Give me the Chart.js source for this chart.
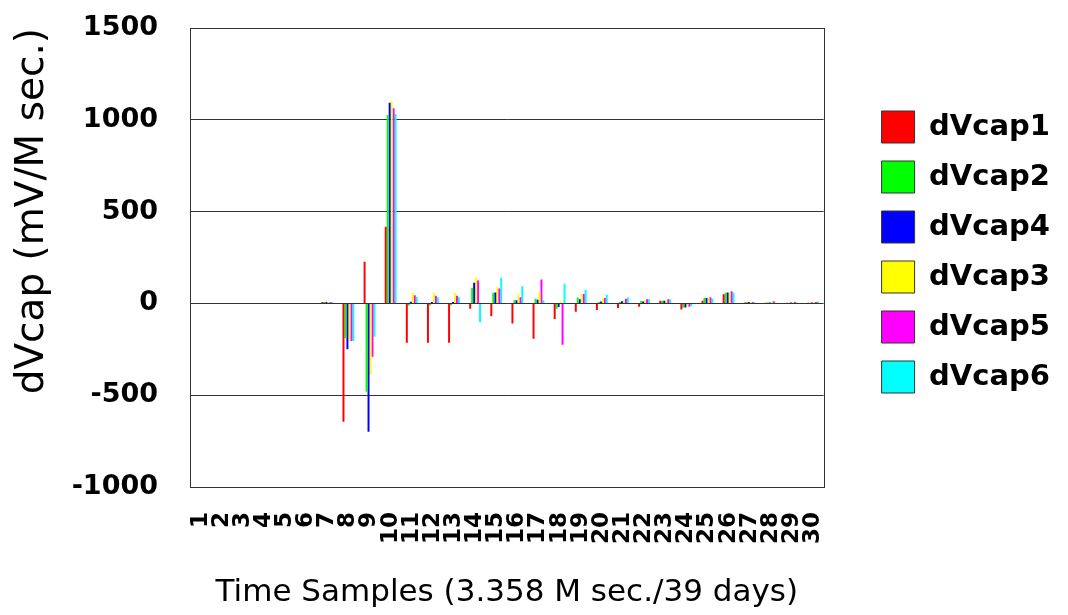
<!DOCTYPE html>
<html>
<head>
<meta charset="utf-8">
<script src="https://cdn.jsdelivr.net/npm/chart.js@4/dist/chart.umd.min.js"></script>
<style>
  html, body { margin: 0; padding: 0; background: #ffffff; }
  #wrap { width: 1068px; height: 615px; }
</style>
</head>
<body>
<div id="wrap"><canvas id="c" width="1068" height="615"></canvas></div>
<script>
const categories = ['1','2','3','4','5','6','7','8','9','10','11','12','13','14','15','16','17','18','19','20','21','22','23','24','25','26','27','28','29','30'];

const dVcap1 = [0,0,0,0,0,0,8,-644,227,418,-215,-214,-214,-29,-70,-110,-192,-85,-45,-36,-25,-18,15,-33,15,50,5,3,3,3];
const dVcap2 = [0,0,0,0,0,0,8,-190,-481,1026,-12,-12,-10,85,58,17,25,-29,32,8,8,13,15,-22,30,58,8,5,3,3];
const dVcap4 = [0,0,0,0,0,0,8,-250,-699,1093,9,8,8,112,60,17,20,-20,22,10,12,10,15,-22,30,60,8,5,5,5];
const dVcap3 = [0,0,0,0,0,0,8,-205,-390,1099,60,58,58,140,90,52,62,12,50,30,17,18,18,-18,30,62,8,8,8,8];
const dVcap5 = [0,0,0,0,0,0,8,-205,-290,1063,44,42,42,125,81,34,130,-225,51,30,25,23,22,-18,33,66,8,12,8,8];
const dVcap6 = [0,0,0,0,0,0,8,-205,-181,1031,35,34,34,-102,140,93,17,107,75,47,32,23,22,-15,25,60,5,5,5,10];

const seriesNames = ['dVcap1','dVcap2','dVcap4','dVcap3','dVcap5','dVcap6'];
const seriesValues = [dVcap1, dVcap2, dVcap4, dVcap3, dVcap5, dVcap6];
const seriesColors = ['#ff0000','#00ff00','#0000ff','#ffff00','#ff00ff','#00ffff'];

const yTickValues = [-1000, -500, 0, 500, 1000, 1500];

const FONT = 'DejaVu Sans';
const AXIS_COLOR = '#333333';

const plotBorder = {
  id: 'plotBorder',
  afterDatasetsDraw(chart) {
    const a = chart.chartArea, ctx = chart.ctx;
    ctx.save();
    ctx.strokeStyle = AXIS_COLOR;
    ctx.lineWidth = 1;
    ctx.strokeRect(Math.round(a.left) + 0.5, Math.round(a.top) + 0.5, Math.round(a.right - a.left), Math.round(a.bottom - a.top));
    ctx.restore();
  }
};

new Chart(document.getElementById('c'), {
  type: 'bar',
  data: {
    labels: categories,
    datasets: seriesNames.map((n, i) => ({
      label: n,
      data: seriesValues[i],
      backgroundColor: seriesColors[i],
      borderWidth: 0,
      categoryPercentage: 0.56,
      barPercentage: 1.0,
      yAxisID: 'y'
    }))
  },
  options: {
    responsive: false,
    animation: false,
    devicePixelRatio: 1,
    layout: { padding: { top: 28, right: 8, bottom: 0, left: 0 } },
    plugins: {
      tooltip: { enabled: false },
      legend: {
        position: 'right',
        align: 'start',
        maxWidth: 400,
        title: { display: true, text: '', font: { family: FONT, size: 10, lineHeight: 1 }, padding: { top: 55, bottom: 0 } },
        labels: {
          font: { family: FONT, size: 29, weight: 'bold' },
          color: '#000000',
          boxWidth: 33,
          boxHeight: 32,
          padding: 18,
          generateLabels(chart) {
            const items = Chart.defaults.plugins.legend.labels.generateLabels(chart);
            items.forEach(it => { it.strokeStyle = '#333333'; it.lineWidth = 1; });
            return items;
          }
        }
      }
    },
    scales: {
      x: {
        grid: { display: false, drawTicks: false },
        border: { display: true, color: AXIS_COLOR },
        ticks: {
          autoSkip: false,
          maxRotation: 90,
          minRotation: 90,
          padding: 25,
          color: '#000000',
          font: { family: FONT, size: 23, weight: 'bold' }
        },
        title: {
          display: true,
          text: 'Time Samples (3.358 M sec./39 days)',
          color: '#000000',
          font: { family: FONT, size: 31 },
          padding: { top: 0, bottom: 3 }
        },
        afterFit(scale) { scale.height = 128; }
      },
      y: {
        position: 'left',
        min: -1000,
        max: 1500,
        afterBuildTicks(scale) { scale.ticks = yTickValues.map(v => ({ value: v })); },
        grid: { color: AXIS_COLOR, lineWidth: 1, drawTicks: false },
        border: { display: true, color: AXIS_COLOR },
        ticks: {
          padding: 32,
          color: '#000000',
          font: { family: FONT, size: 27, weight: 'bold' },
          callback: (v) => String(v)
        },
        title: {
          display: true,
          text: 'dVcap (mV/M sec.)',
          align: 'end',
          color: '#000000',
          font: { family: FONT, size: 39 },
          padding: { top: 9, bottom: 0 }
        },
        afterFit(scale) {
          scale.width = 190;
          scale.paddingTop = 16;
          scale.paddingBottom = 16;
        }
      },
      yRight: {
        position: 'right',
        display: true,
        grid: { display: false, drawTicks: false },
        border: { display: false },
        ticks: { display: false },
        afterFit(scale) { scale.width = 40; }
      }
    }
  },
  plugins: [plotBorder]
});
</script>
</body>
</html>
